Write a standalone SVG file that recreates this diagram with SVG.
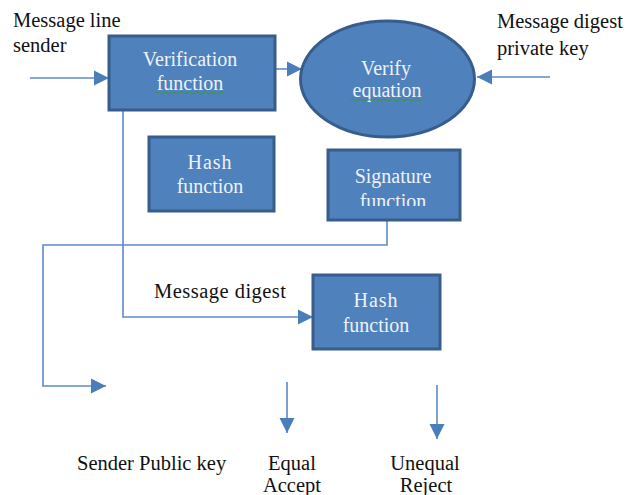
<svg xmlns="http://www.w3.org/2000/svg" width="641" height="495" viewBox="0 0 641 495" font-family="Liberation Serif">
  <style>
    .box { fill: #4f81bd; stroke: #385d8a; stroke-width: 3; }
    .in { font-size: 20px; fill: #eef2f8; text-anchor: middle; }
    .lbl { font-size: 20.5px; fill: #111; }
    .ln { fill: none; stroke: #5b8bc9; stroke-width: 1.6; }
    .sq { fill: none; stroke: #3a9a3a; stroke-width: 1; }
  </style>
  <defs>
    <marker id="ah" markerUnits="userSpaceOnUse" markerWidth="16" markerHeight="16" refX="15" refY="8" orient="auto">
      <path d="M0,0.5 L15,8 L0,15.5 z" fill="#4a7ebb"/>
    </marker>
    <clipPath id="sigclip"><rect x="328" y="150" width="132" height="56"/></clipPath>
  </defs>
  <rect width="641" height="495" fill="#ffffff"/>

  <g id="connectors">
    <line class="ln" x1="30" y1="78" x2="109" y2="78" marker-end="url(#ah)"/>
    <line class="ln" x1="275" y1="69" x2="302" y2="69" marker-end="url(#ah)"/>
    <line class="ln" x1="550" y1="77" x2="477" y2="77" marker-end="url(#ah)"/>
    <polyline class="ln" points="123,110 123,317 313,317" marker-end="url(#ah)"/>
    <polyline class="ln" points="387,220 387,245 43,245 43,386 106,386" marker-end="url(#ah)"/>
    <line class="ln" x1="287" y1="382" x2="287" y2="433" marker-end="url(#ah)"/>
    <line class="ln" x1="437" y1="385" x2="437" y2="439" marker-end="url(#ah)"/>
  </g>

  <g id="verification">
    <rect class="box" x="109" y="36" width="166" height="74"/>
    <text class="in" x="190" y="66" font-family="Liberation Serif">Verification</text>
    <text class="in" x="190" y="90" font-family="Liberation Serif">function</text>
    <path class="sq" d="M155,93 q2,-2 4,0 t4,0 t4,0 t4,0 t4,0 t4,0 t4,0 t4,0 t4,0 t4,0 t4,0 t4,0 t4,0 t4,0 t4,0 t4,0 t4,0"/>
  </g>

  <g id="verify-equation">
    <ellipse class="box" cx="387.5" cy="79" rx="87" ry="58"/>
    <text class="in" x="386" y="75" font-family="Liberation Serif">Verify</text>
    <text class="in" x="387" y="97" font-family="Liberation Serif">equation</text>
    <path class="sq" d="M350,100 q2,-2 4,0 t4,0 t4,0 t4,0 t4,0 t4,0 t4,0 t4,0 t4,0 t4,0 t4,0 t4,0 t4,0 t4,0 t4,0 t4,0 t4,0 t4,0"/>
  </g>

  <g id="hash1">
    <rect class="box" x="149" y="137" width="125" height="74"/>
    <text class="in" x="210" y="169" letter-spacing="1" font-family="Liberation Serif">Hash</text>
    <text class="in" x="210" y="193" font-family="Liberation Serif">function</text>
  </g>

  <g id="signature">
    <rect class="box" x="328" y="150" width="132" height="70"/>
    <text class="in" x="393" y="183" font-family="Liberation Serif">Signature</text>
    <text class="in" x="393" y="208" clip-path="url(#sigclip)" font-family="Liberation Serif">function</text>
  </g>

  <g id="hash2">
    <rect class="box" x="313" y="275" width="127" height="74"/>
    <text class="in" x="376" y="307" letter-spacing="1" font-family="Liberation Serif">Hash</text>
    <text class="in" x="376" y="332" font-family="Liberation Serif">function</text>
  </g>

  <g id="labels">
    <text class="lbl" x="13" y="27" font-family="Liberation Serif">Message line</text>
    <text class="lbl" x="13" y="52" font-family="Liberation Serif">sender</text>
    <text class="lbl" x="497" y="28" font-family="Liberation Serif">Message digest</text>
    <text class="lbl" x="497" y="55" font-family="Liberation Serif">private key</text>
    <text class="lbl" x="154" y="298" textLength="132" lengthAdjust="spacing" font-family="Liberation Serif">Message digest</text>
    <text class="lbl" x="77" y="470" font-size="18.5px" font-family="Liberation Serif">Sender Public key</text>
    <text class="lbl" x="292" y="470" font-size="18.5px" text-anchor="middle" font-family="Liberation Serif">Equal</text>
    <text class="lbl" x="292" y="492" font-size="18.5px" text-anchor="middle" font-family="Liberation Serif">Accept</text>
    <text class="lbl" x="425" y="470" font-size="18.5px" text-anchor="middle" font-family="Liberation Serif">Unequal</text>
    <text class="lbl" x="426" y="492" font-size="18.5px" text-anchor="middle" font-family="Liberation Serif">Reject</text>
  </g>
</svg>
